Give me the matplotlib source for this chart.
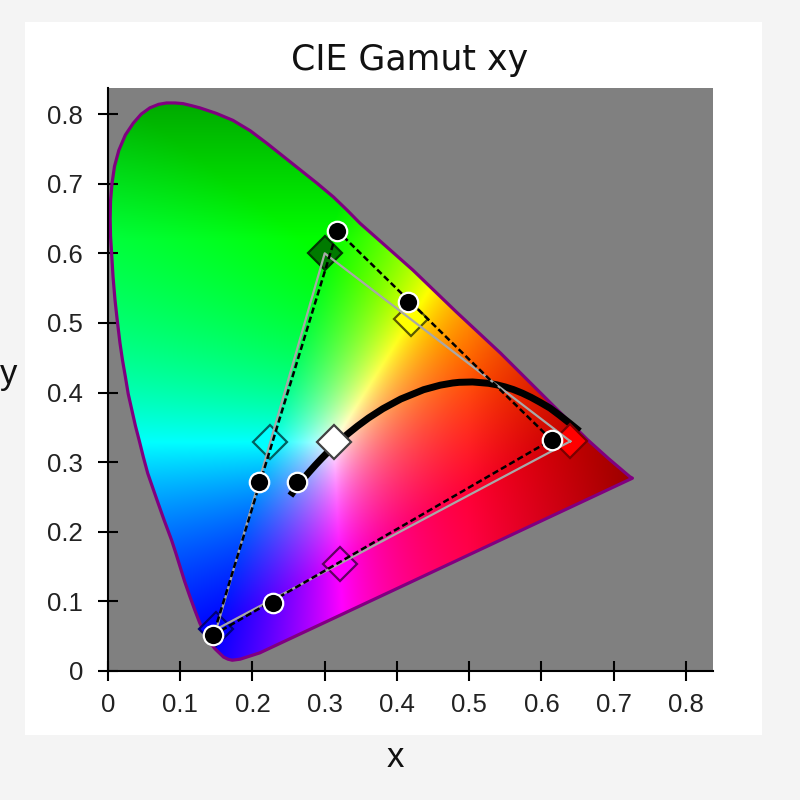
import numpy as np
import matplotlib
matplotlib.use("Agg")
import matplotlib.pyplot as plt
from matplotlib.patches import Polygon, Rectangle

# ---------------- data ----------------
# spectral locus outline, blue end -> top -> red end -> purple line
locus_x = [0.183, 0.172, 0.166, 0.160, 0.155, 0.148, 0.141, 0.134, 0.127, 0.120,
           0.113, 0.106, 0.0997, 0.094, 0.088, 0.0776, 0.0677, 0.055, 0.049, 0.0435,
           0.038, 0.033, 0.028, 0.024, 0.020, 0.0166, 0.013, 0.0097, 0.007, 0.005,
           0.0035, 0.003, 0.0035, 0.0055, 0.009, 0.015, 0.024, 0.035, 0.046, 0.058,
           0.070, 0.081, 0.093, 0.104, 0.116, 0.127, 0.150, 0.173, 0.197, 0.220,
           0.243, 0.266, 0.289, 0.312, 0.331, 0.349, 0.385, 0.422, 0.482, 0.543,
           0.603, 0.663, 0.693, 0.7225, 0.726, 0.210]
locus_y = [0.017, 0.0155, 0.017, 0.020, 0.025, 0.032, 0.041, 0.054, 0.069, 0.088,
           0.108, 0.129, 0.150, 0.169, 0.188, 0.217, 0.246, 0.284, 0.307, 0.330,
           0.352, 0.375, 0.398, 0.423, 0.447, 0.471, 0.502, 0.533, 0.566, 0.600,
           0.625, 0.650, 0.675, 0.700, 0.725, 0.748, 0.770, 0.787, 0.800, 0.809,
           0.814, 0.816, 0.816, 0.815, 0.812, 0.809, 0.801, 0.791, 0.776, 0.758,
           0.739, 0.720, 0.701, 0.681, 0.662, 0.643, 0.610, 0.576, 0.516, 0.457,
           0.395, 0.333, 0.305, 0.279, 0.277, 0.026]

# Planckian locus (1000 K ... 25000 K)
planck_x = [0.6528, 0.6388, 0.6251, 0.6120, 0.5985, 0.5857, 0.5732, 0.5612, 0.5497,
            0.5378, 0.5267, 0.5046, 0.4861, 0.4770, 0.4599, 0.4369, 0.4053, 0.3805,
            0.3608, 0.3451, 0.3325, 0.3221, 0.3135, 0.3064, 0.2952, 0.2869, 0.2807,
            0.2719, 0.2637, 0.2565, 0.2525]
planck_y = [0.3444, 0.3562, 0.3674, 0.3776, 0.3858, 0.3931, 0.3993, 0.4043, 0.4081,
            0.4112, 0.4133, 0.4152, 0.4147, 0.4137, 0.4106, 0.4041, 0.3907, 0.3768,
            0.3636, 0.3516, 0.3411, 0.3318, 0.3237, 0.3166, 0.3048, 0.2956, 0.2884,
            0.2780, 0.2683, 0.2577, 0.2519]

# reference gamut (diamonds): R, G, B, Y, C, M, W
ref_names = ['R', 'G', 'B', 'Y', 'C', 'M', 'W']
ref_x = [0.64, 0.30, 0.15, 0.4193, 0.2247, 0.3209, 0.3127]
ref_y = [0.33, 0.60, 0.06, 0.5053, 0.3287, 0.1542, 0.3290]
ref_face = ['#ff0000', '#007a00', '#0000ff', '#ffff00', '#00ffff', '#ff00ff', '#ffffff']
ref_edge = ['#7a0000', '#003800', '#00007a', '#5a5a00', '#006060', '#600060', '#404040']

# measured gamut (black dots): R, G, B, Y, C, M, W
meas_x = [0.614, 0.3174, 0.1458, 0.4157, 0.2095, 0.228, 0.2611]
meas_y = [0.332, 0.6326, 0.0517, 0.5306, 0.272, 0.0982, 0.272]

tick_vals = [0, 0.1, 0.2, 0.3, 0.4, 0.5, 0.6, 0.7, 0.8]
tick_labels = ['0', '0.1', '0.2', '0.3', '0.4', '0.5', '0.6', '0.7', '0.8']

XMAX = 0.8375
YMAX = 0.8375

# ---------------- figure ----------------
fig = plt.figure(figsize=(8, 8), dpi=100, facecolor='#f4f4f4')
fig.patches.append(Rectangle((25 / 800, 1 - 735 / 800), (762 - 25) / 800, (735 - 22) / 800,
                             transform=fig.transFigure, facecolor='white',
                             edgecolor='none', zorder=-10))
ax = fig.add_axes([108 / 800, 1 - 671 / 800, 605 / 800, 583 / 800])
ax.set_facecolor('#808080')
ax.set_xlim(0, XMAX)
ax.set_ylim(0, YMAX)

# colour fill
n = 900
gx, gy = np.meshgrid(np.linspace(0, XMAX, n), np.linspace(0, YMAX, n))
yy = np.maximum(gy, 1e-4)
Xc = gx / yy
Zc = (1 - gx - gy) / yy
M = np.array([[3.2406, -1.5372, -0.4986],
              [-0.9689, 1.8758, 0.0415],
              [0.0557, -0.2040, 1.0570]])
r = M[0, 0] * Xc + M[0, 1] + M[0, 2] * Zc
g = M[1, 0] * Xc + M[1, 1] + M[1, 2] * Zc
b = M[2, 0] * Xc + M[2, 1] + M[2, 2] * Zc
rgb = np.stack([r, g, b], axis=-1)
mx = np.maximum(rgb.max(axis=-1, keepdims=True), 1e-6)
lin = np.clip(rgb / mx, 0, 1)
redness = np.clip(lin[..., 0] - np.maximum(lin[..., 1], lin[..., 2]), 0, 1)
greenness = np.clip(lin[..., 1] - np.maximum(lin[..., 0], lin[..., 2]), 0, 1)
dark = (0.38 * redness * np.clip((gx - 0.50) / 0.22, 0, 1)
        + 0.33 * greenness * np.clip((gy - 0.62) / 0.195, 0, 1))
img = np.clip(lin * (1 - dark)[..., None], 0, 1)

im = ax.imshow(img, extent=(0, XMAX, 0, YMAX), origin='lower',
               interpolation='bilinear', zorder=1, aspect='auto')
locus = Polygon(np.column_stack([locus_x, locus_y]), closed=True,
                facecolor='none', edgecolor='#800080', linewidth=2.3, zorder=2,
                joinstyle='round')
ax.add_patch(locus)
im.set_clip_path(locus)

# Planckian locus
ax.plot(planck_x, planck_y, color='black', linewidth=5, solid_capstyle='butt',
        solid_joinstyle='round', zorder=3)

# reference diamonds
for i in range(len(ref_x)):
    ax.plot(ref_x[i], ref_y[i], marker='D', markersize=17.5, markerfacecolor=ref_face[i],
            markeredgecolor=ref_edge[i], markeredgewidth=1.6, linestyle='none', zorder=4)

# reference triangle (gray)
tri_rx = [ref_x[0], ref_x[1], ref_x[2], ref_x[0]]
tri_ry = [ref_y[0], ref_y[1], ref_y[2], ref_y[0]]
ax.plot(tri_rx, tri_ry, color='#a8a8a8', linewidth=1.6, zorder=5)

# measured triangle (dashed black)
tri_mx = [meas_x[0], meas_x[1], meas_x[2], meas_x[0]]
tri_my = [meas_y[0], meas_y[1], meas_y[2], meas_y[0]]
ax.plot(tri_mx, tri_my, color='black', linewidth=1.8, linestyle=(0, (2.5, 1.3)), zorder=6)

# measured dots
ax.plot(meas_x, meas_y, marker='o', markersize=14, markerfacecolor='black',
        markeredgecolor='white', markeredgewidth=1.6, linestyle='none', zorder=7)

# axes styling
for s in ['top', 'right']:
    ax.spines[s].set_visible(False)
for s in ['left', 'bottom']:
    ax.spines[s].set_linewidth(1.5)
    ax.spines[s].set_zorder(10)
ax.set_xticks(tick_vals)
ax.set_xticklabels(tick_labels)
ax.set_yticks(tick_vals)
ax.set_yticklabels(tick_labels)
ax.tick_params(axis='both', direction='inout', length=14, width=1.5, color='black',
               labelsize=18.5, labelcolor='#222222')
ax.tick_params(axis='x', pad=9)
ax.tick_params(axis='y', pad=11)
for lab in ax.get_xticklabels() + ax.get_yticklabels():
    lab.set_family('Liberation Sans')

fig.text(410 / 800, 1 - 70 / 800, 'CIE Gamut xy', ha='center', va='baseline',
         fontsize=25, family='DejaVu Sans', color='#111111')
fig.text(395 / 800, 1 - 767 / 800, 'x', ha='center', va='baseline',
         fontsize=25, family='Liberation Sans', color='#111111')
fig.text(9 / 800, 1 - 384 / 800, 'y', ha='center', va='baseline',
         fontsize=25, family='Liberation Sans', color='#111111')

fig.savefig('out.png', dpi=100, facecolor=fig.get_facecolor())
